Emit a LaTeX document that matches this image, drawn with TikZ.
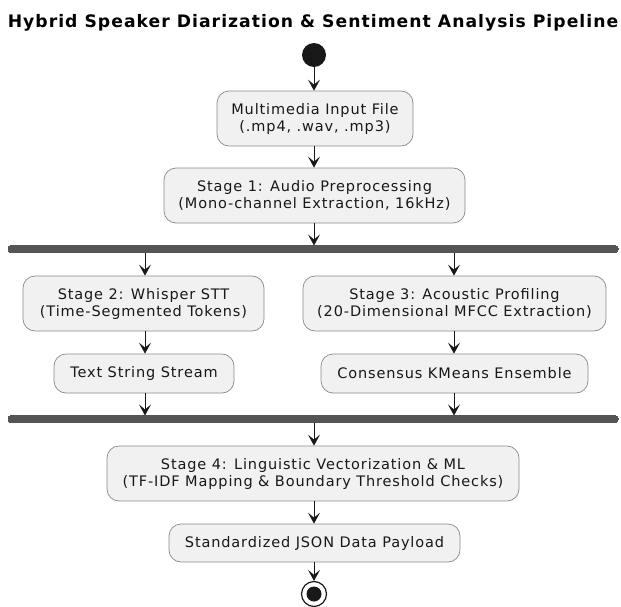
\documentclass[tikz,border=0pt]{standalone}
\usepackage{fontspec}
\setmainfont{DejaVu Sans}
\newfontfamily\boxfont[LetterSpace=6]{DejaVu Sans}
\usetikzlibrary{arrows.meta}
\definecolor{boxfill}{HTML}{F1F1F1}
\definecolor{boxline}{HTML}{8A8A8A}
\definecolor{ink}{HTML}{181818}
\definecolor{barcol}{HTML}{555555}
\tikzset{
  act/.style={draw=boxline, line width=0.7pt, fill=boxfill, rounded corners=12pt,
    align=center, inner sep=0pt, text=ink,
    font=\boxfont\fontsize{14.5}{17}\selectfont},
  barnode/.style={fill=barcol, draw=barcol, line width=0pt, rounded corners=3pt,
    minimum width=610pt, minimum height=7pt, inner sep=0pt},
  arr/.style={draw=ink, line width=0.9pt, -{Stealth[length=11pt,width=12pt,inset=5pt]}},
}
\begin{document}
\begin{tikzpicture}[x=1pt,y=-1pt]
\useasboundingbox (0,0) rectangle (621,607);
\node[font=\boxfont\bfseries\fontsize{17.2}{20}\selectfont, text=black] (title) at (313,23) {Hybrid Speaker Diarization \& Sentiment Analysis Pipeline};
\node[circle, fill=ink, minimum size=24pt, inner sep=0pt] (start) at (314,55) {};
\node[act, minimum width=196pt, minimum height=55pt] (m1) at (315,118.5) {Multimedia Input File\\(.mp4, .wav, .mp3)};
\node[act, minimum width=301pt, minimum height=55pt] (s1) at (314.5,195.5) {Stage 1: Audio Preprocessing\\(Mono-channel Extraction, 16kHz)};
\node[barnode] (fork) at (313,249) {};
\node[act, minimum width=241pt, minimum height=55pt] (s2) at (143.5,303.5) {Stage 2: Whisper STT\\(Time-Segmented Tokens)};
\node[act, minimum width=303pt, minimum height=55pt] (s3) at (454.5,303.5) {Stage 3: Acoustic Profiling\\(20-Dimensional MFCC Extraction)};
\node[act, minimum width=180pt, minimum height=39pt] (ts) at (144,373.5) {Text String Stream};
\node[act, minimum width=267pt, minimum height=39pt] (ck) at (454.5,373.5) {Consensus KMeans Ensemble};
\node[barnode] (join) at (313,419) {};
\node[act, minimum width=412pt, minimum height=55pt] (s4) at (313,473.5) {Stage 4: Linguistic Vectorization \& ML\\(TF-IDF Mapping \& Boundary Threshold Checks)};
\node[act, minimum width=291pt, minimum height=38pt] (js) at (314.5,543) {Standardized JSON Data Payload};
\node[circle, draw=ink, line width=1.2pt, fill=white, minimum size=25pt, inner sep=0pt] (end) at (314,594) {};
\node[circle, fill=ink, minimum size=15pt, inner sep=0pt] (endin) at (end.center) {};
\draw[arr] (start) -- (start |- m1.north);
\draw[arr] (start |- m1.south) -- (start |- s1.north);
\draw[arr] (start |- s1.south) -- (start |- fork.north);
\draw[arr] (fork.south -| 145,0) -- (s2.north -| 145,0);
\draw[arr] (fork.south -| 454,0) -- (s3.north -| 454,0);
\draw[arr] (s2.south -| 145,0) -- (ts.north -| 145,0);
\draw[arr] (s3.south -| 454,0) -- (ck.north -| 454,0);
\draw[arr] (ts.south -| 145,0) -- (join.north -| 145,0);
\draw[arr] (ck.south -| 454,0) -- (join.north -| 454,0);
\draw[arr] (join.south -| 314,0) -- (s4.north -| 314,0);
\draw[arr] (s4.south -| 314,0) -- (js.north -| 314,0);
\draw[arr] (js.south -| 314,0) -- (end.north);
\end{tikzpicture}
\end{document}
